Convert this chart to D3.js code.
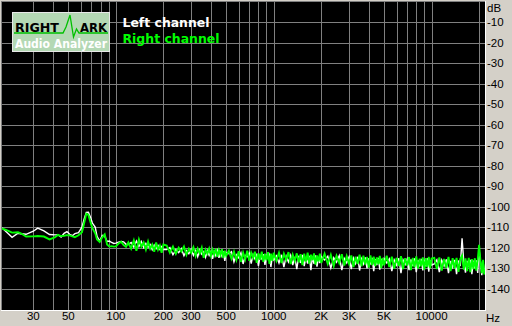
<!DOCTYPE html>
<html>
<head>
<meta charset="utf-8">
<script src="https://cdn.jsdelivr.net/npm/d3@7/dist/d3.min.js"></script>
<style>
body { margin: 0; background: #d4d0c8; }
svg { display: block; }
</style>
</head>
<body>
<div id="chart"></div>
<script>
// frequency bins (Hz) shared by both channels
var freqHz = [19,21,22,24,25,27,30,32,35,38,41,43,45,47,49,51,53,55,58,61,63,65,67,69,71,74,76,79,82,85,88,91,94,97,100,104,108,112,116,
	120,125,130,135,140,145,150,155,160,165,170,175,180,185,190,195,200,
	210,220,230,240,250,260,270,280,290,300,310,320,330,340,350,360,370,380,390,400,410,420,430,440,450,460,470,480,490,500,
	520,540,560,580,600,620,640,660,680,700,720,740,760,780,800,820,840,860,880,900,920,940,960,980,1000,
	1040,1080,1120,1160,1200,1240,1280,1320,1360,1400,1440,1480,1520,1560,1600,1640,1680,1720,1760,1800,1840,1880,1920,1960,2000,
	2100,2200,2300,2400,2500,2600,2700,2800,2900,3000,3100,3200,3300,3400,3500,3600,3700,3800,3900,4000,4100,4200,4300,4400,4500,4600,4700,4800,4900,5000,
	5200,5400,5600,5800,6000,6200,6400,6600,6800,7000,7200,7400,7600,7800,8000,8200,8400,8600,8800,9000,9200,9400,9600,9800,10000,
	10400,10800,11200,11600,12000,12400,12800,13200,13600,14000,14400,14800,15200,15600,16000,16400,16800,17200,17600,18000,18400,18800,19200,19600,20000,20400,20800,21200,21600];

var leftDb = [-110.3,-113.5,-115,-113,-113.2,-113.5,-112,-110.5,-111.8,-113.6,-113.8,-113.8,-114.8,-113,-112.2,-113.5,-114.2,-113.2,-112.7,-110,-106,-102.8,-102.7,-105,-108,-110,-114.5,-116.8,-114,-114.4,-117,-116.8,-117.5,-118,-117.8,-117.3,-117,-117.2,-118.4,
	-118.5,-117.5,-119.8,-116.8,-119.5,-117,-120,-118,-119.8,-118.5,-121,-118.8,-120.5,-119,-120.8,-119.5,-121,
	-121,-120,-123.5,-121,-122.5,-120.5,-124,-121.5,-123,-120.8,-123.8,-121.5,-124.5,-121.2,-123.2,-122,-124.8,-121.5,-123.8,-122,-125.5,-122,-124,-121.5,-125,-122.3,-124.2,-121.8,-126.5,-122.5,
	-123,-122,-127,-123.5,-125,-122.5,-128,-123.8,-124.5,-122.8,-127.8,-123.5,-125.5,-123,-129,-124,-125.5,-123.2,-128.5,-124,-125,-123.5,-129.5,-124.2,-126,
	-124,-127.5,-123.5,-129.5,-124.2,-127,-123.8,-128.5,-124.5,-130.5,-124,-127.5,-123.6,-129,-124.8,-127.8,-124,-131,-124.5,-128,-123.8,-129.3,-125,-127.6,-124.3,
	-126,-124.2,-130,-125,-127.2,-124,-131,-125.3,-127.5,-124.6,-130.5,-125.2,-127.8,-124.5,-131.2,-125.5,-128,-124.8,-130.2,-125.2,-127.6,-125,-131.5,-125.6,-128.5,-125,-130.8,-125.5,-128,-125.4,
	-127.5,-125.5,-131.5,-126,-128.5,-125.2,-132.5,-126,-128.2,-125.6,-131,-125.8,-129,-125.3,-132,-126.2,-128.6,-125.5,-131.2,-126,-129.2,-125.2,-131.8,-126.3,-128.5,
	-128,-126,-132,-126.2,-129,-125.8,-132.5,-126.5,-129.5,-126,-133,-126.3,-129,-115.5,-127,-132.2,-126.5,-129.5,-126,-133,-126.4,-130,-126.2,-132.4,-121,-127,-133.5,-126.8,-132.5];

var rightDb = [-110.6,-112,-112.7,-112.5,-113,-114.6,-114.5,-114.3,-114.6,-116,-115,-113.8,-114.4,-114.2,-113.9,-114,-114.5,-114.9,-114,-112.5,-108,-103.4,-104,-107.5,-110.5,-113,-116,-117.2,-115,-113.5,-118.5,-119.5,-119.3,-119.5,-119.4,-118,-117.2,-118.8,-119.6,
	-117.5,-120.5,-116.5,-121.5,-116,-119.5,-117.5,-121,-117,-120.5,-118.5,-122,-117.5,-121,-119,-122.5,-118.5,
	-119,-122.5,-119.5,-123,-120,-122,-119.5,-123.5,-120.5,-122.5,-119.8,-124,-120.5,-122.8,-120,-125,-121,-123,-120.5,-124,-121,-123.5,-120.5,-124.5,-121.2,-123.6,-120.8,-125,-121.5,-124,
	-121.5,-125.5,-122,-126,-121.8,-127,-122.5,-125.8,-121.5,-126.5,-122.5,-125,-122,-127.5,-122.8,-126,-122,-127,-123,-126.2,-122.2,-128,-123,-126.5,-122.5,
	-126.5,-122.5,-127.5,-123,-126,-122.2,-128,-123.5,-126.5,-122.8,-127.2,-123.2,-128.5,-123,-126.8,-122.5,-127.8,-123.5,-126.2,-122.8,-128.3,-123.8,-126.8,-123,-127.5,
	-123,-128,-123.5,-129,-124,-127.5,-123.2,-128.8,-124.2,-127.8,-123.8,-129.5,-124.5,-128,-123.5,-129.2,-124,-128.3,-124.6,-129.8,-123.8,-128.5,-124.4,-129,-124.8,-128.2,-124,-130,-125,-128.6,
	-124,-129.5,-124.5,-130.2,-125,-129,-124.2,-130.5,-125.2,-128.8,-124.6,-131,-125,-129.6,-124.3,-130.3,-125.4,-129.2,-124.8,-130.8,-125.1,-129.5,-124.5,-130.2,-125.3,
	-125,-130.5,-124.8,-131.2,-125.5,-130,-124.6,-131.5,-125.2,-130.2,-125,-131.8,-125.5,-124,-130.8,-125.3,-131.5,-125,-132,-125.6,-130.5,-125.2,-131.2,-126,-118.7,-126.5,-132.5,-126,-133.2];

var gridHz = [30,40,50,60,70,80,90,100,200,300,400,500,600,700,800,900,1000,2000,3000,4000,5000,6000,7000,8000,9000,10000,20000];
var tickHz = [30,50,100,200,300,500,1000,2000,3000,5000,10000];
var tickNames = ["30","50","100","200","300","500","1000","2K","3K","5K","10000"];
var dbTicks = [-10,-20,-30,-40,-50,-60,-70,-80,-90,-100,-110,-120,-130,-140];
var channelNames = ["Left channel", "Right channel"];

var width = 512, height = 326;
var plot = {left: 2, top: 2, right: 485, bottom: 309};

var x = d3.scaleLog().domain([19, 21800]).range([plot.left, plot.right]);
var y = d3.scaleLinear().domain([0, -150]).range([plot.top, plot.bottom]);

var svg = d3.select("#chart")
	.append("svg")
	.attr("width", width)
	.attr("height", height)
	.style("background", "#d4d0c8");

svg.append("defs").append("clipPath").attr("id", "clip")
	.append("rect")
	.attr("x", plot.left).attr("y", plot.top)
	.attr("width", plot.right - plot.left).attr("height", plot.bottom - plot.top + 1);

svg.append("rect")
	.attr("x", plot.left).attr("y", plot.top)
	.attr("width", plot.right - plot.left)
	.attr("height", plot.bottom - plot.top + 1)
	.attr("fill", "#000");

var grid = svg.append("g").attr("stroke", "#808080").attr("shape-rendering", "crispEdges");

grid.selectAll(".vg").data(gridHz).enter().append("line")
	.attr("x1", function(d) { return Math.round(x(d)) + 0.5; })
	.attr("x2", function(d) { return Math.round(x(d)) + 0.5; })
	.attr("y1", plot.top).attr("y2", plot.bottom + 1);

grid.selectAll(".hg").data(dbTicks).enter().append("line")
	.attr("x1", plot.left).attr("x2", plot.right)
	.attr("y1", function(d) { return Math.round(y(d)) + 0.5; })
	.attr("y2", function(d) { return Math.round(y(d)) + 0.5; });

// sunken frame
svg.append("path").attr("d", "M1.5,310V1.5H485").attr("fill", "none").attr("stroke", "#808080").attr("shape-rendering", "crispEdges");
svg.append("path").attr("d", "M1,310.5H485.5V1").attr("fill", "none").attr("stroke", "#fff").attr("shape-rendering", "crispEdges");

var line = d3.line()
	.x(function(d) { return x(d[0]); })
	.y(function(d) { return y(d[1]); });

var curves = svg.append("g").attr("clip-path", "url(#clip)");
curves.append("path")
	.datum(d3.zip(freqHz, leftDb))
	.attr("d", line)
	.attr("fill", "none")
	.attr("stroke", "#fff")
	.attr("stroke-width", 1.4);
curves.append("path")
	.datum(d3.zip(freqHz, rightDb))
	.attr("d", line)
	.attr("fill", "none")
	.attr("stroke", "#00ff00")
	.attr("stroke-width", 1.9);

// axes labels
svg.append("g").selectAll("text").data(dbTicks).enter().append("text")
	.attr("x", 487)
	.attr("y", function(d) { return y(d); })
	.attr("dy", "0.35em")
	.attr("font-family", "Liberation Sans, Arial, sans-serif")
	.attr("font-size", "11.5px")
	.attr("fill", "#000")
	.text(function(d) { return d; });
svg.append("text").attr("x", 487).attr("y", 8).attr("dy", "0.35em")
	.attr("font-family", "Liberation Sans, Arial, sans-serif").attr("font-size", "11.5px").text("dB");

svg.append("g").selectAll("text").data(tickHz).enter().append("text")
	.attr("x", function(d) { return x(d); })
	.attr("y", 316)
	.attr("dy", "0.35em")
	.attr("text-anchor", "middle")
	.attr("font-family", "Liberation Sans, Arial, sans-serif")
	.attr("font-size", "11.5px")
	.text(function(d, i) { return tickNames[i]; });
svg.append("text").attr("x", 486).attr("y", 318).attr("dy", "0.35em")
	.attr("font-family", "Liberation Sans, Arial, sans-serif").attr("font-size", "11.5px").text("Hz");

// RMAA logo
var logo = svg.append("g");
logo.append("rect").attr("x", 12.5).attr("y", 12.5).attr("width", 97).attr("height", 39)
	.attr("fill", "#b4d8b4").attr("stroke", "#e8e8e8");
logo.append("text").attr("x", 15).attr("y", 31.5).attr("textLength", 44).attr("lengthAdjust", "spacingAndGlyphs")
	.attr("font-family", "DejaVu Sans, Verdana, sans-serif").attr("font-weight", "bold").attr("font-size", "12.5px")
	.attr("fill", "#000").text("RIGHT");
logo.append("text").attr("x", 80).attr("y", 31.5).attr("textLength", 27).attr("lengthAdjust", "spacingAndGlyphs")
	.attr("font-family", "DejaVu Sans, Verdana, sans-serif").attr("font-weight", "bold").attr("font-size", "12.5px")
	.attr("fill", "#000").text("ARK");
logo.append("path").attr("d", "M14,33H63L66,27L70,15L73.5,37L76.5,29L79,33H108")
	.attr("fill", "none").attr("stroke", "#00c000").attr("stroke-width", 1.3);
logo.append("text").attr("x", 15).attr("y", 47.8).attr("textLength", 92).attr("lengthAdjust", "spacingAndGlyphs")
	.attr("font-family", "DejaVu Sans, Verdana, sans-serif").attr("font-weight", "bold").attr("font-size", "12px")
	.attr("fill", "#fff").text("Audio Analyzer");

// legend
var legendColors = ["#fff", "#00ff00"];
var legendWidths = [87, 97];
svg.append("g").selectAll("text").data(channelNames).enter().append("text")
	.attr("x", 122.5)
	.attr("y", function(d, i) { return 26.8 + i * 16; })
	.attr("textLength", function(d, i) { return legendWidths[i]; })
	.attr("lengthAdjust", "spacingAndGlyphs")
	.attr("font-family", "DejaVu Sans, Verdana, sans-serif")
	.attr("font-weight", "bold")
	.attr("font-size", "12.5px")
	.attr("fill", function(d, i) { return legendColors[i]; })
	.text(function(d) { return d; });
</script>
</body>
</html>
